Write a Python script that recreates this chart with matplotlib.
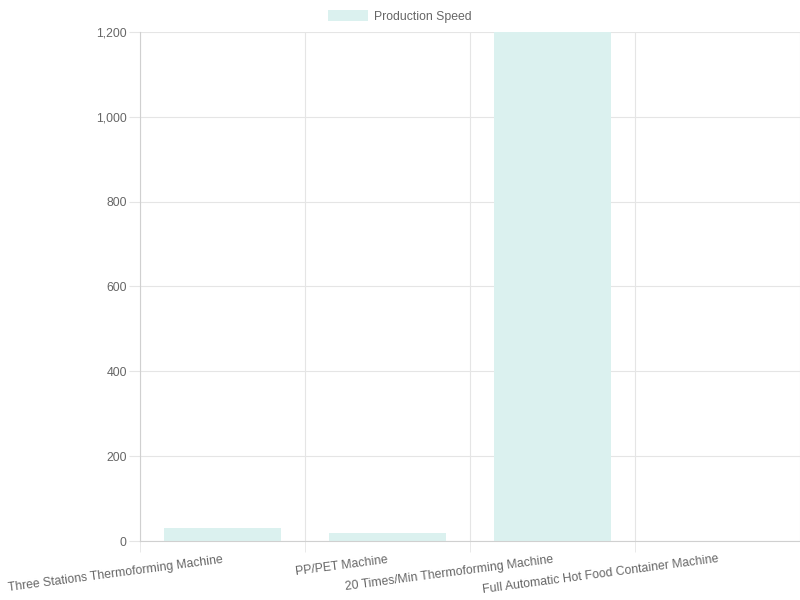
import numpy as np
import matplotlib
matplotlib.use('Agg')
import matplotlib.pyplot as plt
from matplotlib.ticker import FuncFormatter, FixedLocator

plt.rcParams['font.family'] = ['Liberation Sans', 'DejaVu Sans']

machines = ['Three Stations Thermoforming Machine', 'PP/PET Machine',
            '20 Times/Min Thermoforming Machine', 'Full Automatic Hot Food Container Machine']
speed = [30, 20, 1200, 0]
series_name = 'Production Speed'

bar_face = '#dbf1ef'
grid_c = '#e5e5e5'
text_c = '#666666'

fig = plt.figure(figsize=(8, 6), dpi=100)
ax = fig.add_axes([140 / 800, 59 / 600, 660 / 800, 509 / 600])

x = np.arange(len(machines))
ax.bar(x, speed, width=0.715, color=bar_face, label=series_name, zorder=2)

ax.set_xlim(-0.5, len(machines) - 0.5)
ax.set_ylim(0, 1200)

# y axis
ax.set_yticks(np.arange(0, 1201, 200))
ax.yaxis.set_major_formatter(FuncFormatter(lambda v, p: '{:,.0f}'.format(v)))
ax.tick_params(axis='y', length=8, color=grid_c, labelcolor=text_c, labelsize=8.8, pad=1.5)
ax.grid(axis='y', color=grid_c, linewidth=0.8, zorder=0)

# x axis: labels at centres, gridlines/ticks on the boundaries
ax.set_xticks(x)
ax.set_xticklabels(machines, rotation=7.5, ha='right', va='top', rotation_mode='anchor',
                   color=text_c, fontsize=8.8)
ax.tick_params(axis='x', which='major', length=0, pad=9)
ax.xaxis.set_minor_locator(FixedLocator(np.arange(-0.5, len(machines), 1.0)))
ax.tick_params(axis='x', which='minor', length=8, color=grid_c)
ax.grid(axis='x', which='minor', color=grid_c, linewidth=0.8, zorder=0)

for s in ['top', 'right']:
    ax.spines[s].set_visible(False)
for s in ['left', 'bottom']:
    ax.spines[s].set_color('#d0d0d0')
    ax.spines[s].set_linewidth(0.8)

fig.legend(loc='upper center', bbox_to_anchor=(0.5, 0.997), frameon=False,
           handlelength=3.3, handleheight=0.9, handletextpad=0.5,
           fontsize=8.8, labelcolor=text_c, borderaxespad=0.3)

fig.savefig('out.png', dpi=100)
